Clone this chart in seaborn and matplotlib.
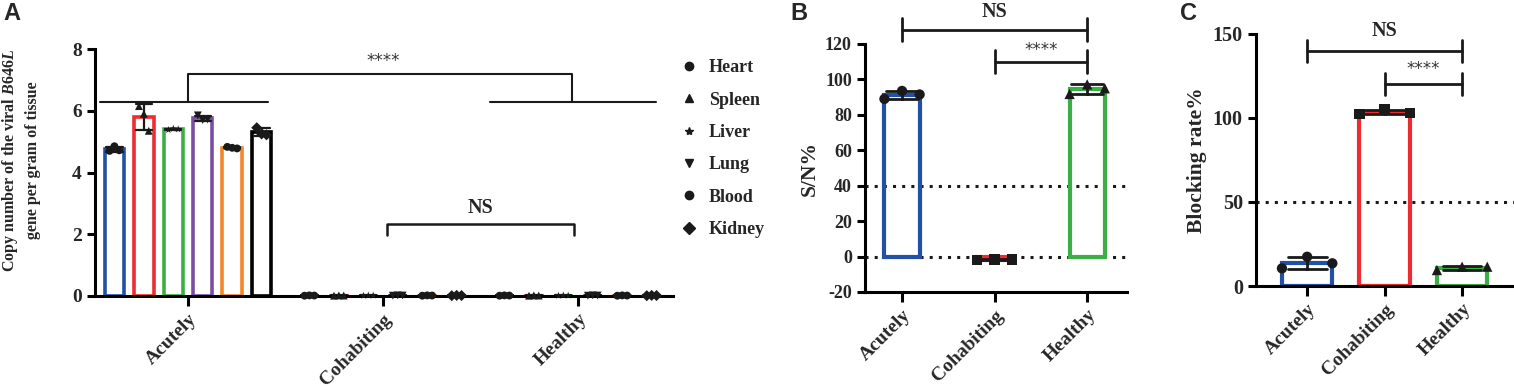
import numpy as np
import pandas as pd
import seaborn as sns
import matplotlib.pyplot as plt
from matplotlib.lines import Line2D

sns.set_theme(style="ticks")
plt.rcParams['font.family'] = ['Liberation Serif', 'DejaVu Serif']
plt.rcParams['font.weight'] = 'bold'
plt.rcParams['axes.labelweight'] = 'bold'
plt.rcParams['axes.unicode_minus'] = False
plt.rcParams['mathtext.fontset'] = 'custom'
plt.rcParams['mathtext.rm'] = 'Liberation Serif:bold'
plt.rcParams['mathtext.it'] = 'Liberation Serif:italic:bold'

# ---- data ----
groups = ["Acutely", "Cohabiting", "Healthy"]
organs = ["Heart", "Spleen", "Liver", "Lung", "Blood", "Kidney"]
organ_colors = ["#2150A5", "#EE2B30", "#3BAF45", "#7A4DA3", "#F5862A", "#000000"]
organ_markers = ["o", "^", "*", "v", "o", "D"]

# copy number, three replicates per organ
acutely_copy = {
    "Heart":  [4.70, 4.85, 4.72],
    "Spleen": [6.15, 5.90, 5.35],
    "Liver":  [5.38, 5.42, 5.40],
    "Lung":   [5.85, 5.70, 5.72],
    "Blood":  [4.83, 4.80, 4.78],
    "Kidney": [5.45, 5.25, 5.22],
}
cohabiting_copy = [0.01, 0.02, 0.015]
healthy_copy = [0.01, 0.02, 0.015]

sn_acutely = [89.0, 93.5, 91.5]
sn_cohabiting = [-1.8, -1.6, -1.7]
sn_healthy = [91.8, 97.2, 95.0]

block_acutely = [10.5, 17.4, 13.5]
block_cohabiting = [102.5, 105.0, 103.0]
block_healthy = [9.5, 11.5, 11.5]

group_colors = ["#2150A5", "#EE2B30", "#3BAF45"]
group_markers = {"Acutely": "o", "Cohabiting": "s", "Healthy": "^"}

rows = []
for g in groups:
    for o in organs:
        if g == "Acutely":
            vals = acutely_copy[o]
        elif g == "Cohabiting":
            vals = cohabiting_copy
        else:
            vals = healthy_copy
        for r, v in enumerate(vals):
            rows.append((g, o, r, v))
dfA = pd.DataFrame(rows, columns=["group", "organ", "rep", "value"])

def long_df(a, c, h):
    out = []
    for g, vals in zip(groups, [a, c, h]):
        for r, v in enumerate(vals):
            out.append((g, r, v))
    return pd.DataFrame(out, columns=["group", "rep", "value"])

dfB = long_df(sn_acutely, sn_cohabiting, sn_healthy)
dfC = long_df(block_acutely, block_cohabiting, block_healthy)

W, H = 1514, 390
fig = plt.figure(figsize=(W / 100, H / 100), dpi=100)

def px_axes(x0, x1, ytop, ybot):
    return fig.add_axes([x0 / W, 1 - ybot / H, (x1 - x0) / W, (ybot - ytop) / H])

axA = px_axes(95, 673, 49, 296)
axB = px_axes(865, 1127, 44, 292)
axC = px_axes(1256, 1514, 34, 286)

SPINE = 2.2

def style_axis(ax, yfs=14, xfs=14):
    sns.despine(ax=ax)
    for s in ["left", "bottom"]:
        ax.spines[s].set_linewidth(SPINE)
        ax.spines[s].set_color("black")
    ax.tick_params(axis="both", width=SPINE, length=6, color="black", direction="out")
    ax.tick_params(axis="y", labelsize=yfs)
    ax.tick_params(axis="x", length=7, labelsize=xfs)
    for lab in ax.get_xticklabels():
        lab.set_rotation(45)
        lab.set_ha("right")
        lab.set_rotation_mode("anchor")
        lab.set_fontweight("bold")
    for lab in ax.get_yticklabels():
        lab.set_fontweight("bold")

def bracket(ax, x0, x1, y, tick, text, ty, fs, fam=None):
    ax.plot([x0, x1], [y, y], color="k", lw=2, clip_on=False)
    ax.plot([x0, x0], [y - tick, y + tick], color="k", lw=2, clip_on=False)
    ax.plot([x1, x1], [y - tick, y + tick], color="k", lw=2, clip_on=False)
    kw = dict(ha="center", va="center", fontsize=fs, clip_on=False)
    if fam:
        kw["family"] = fam
        kw["fontweight"] = "normal"
        kw["color"] = "#333333"
    ax.text((x0 + x1) / 2, ty, text, **kw)

# ---- panel A ----
step = 0.151
sns.barplot(data=dfA, x="group", y="value", hue="organ", order=groups, hue_order=organs,
            palette=organ_colors, fill=False, width=6 * step, gap=0.34, errorbar="sd",
            capsize=0.5, linewidth=2.6, err_kws={"color": "k", "linewidth": 1.6},
            legend=False, ax=axA)
dfA["x"] = dfA["group"].map(groups.index) + (dfA["organ"].map(organs.index) - 2.5) * step \
    + (dfA["rep"] - 1) * 0.025
sns.scatterplot(data=dfA, x="x", y="value", style="organ", style_order=organs,
                markers=dict(zip(organs, organ_markers)), color="k", s=32,
                edgecolor="k", linewidth=0, legend=False, ax=axA, clip_on=False, zorder=5)
axA.set_xlim(-0.477, 2.487)
axA.set_ylim(0, 8)
axA.set_yticks([0, 2, 4, 6, 8])
axA.set_xlabel("")
axA.set_ylabel("Copy number of the viral $\\mathit{B646L}$\ngene per gram of tissue",
               fontsize=11.5, linespacing=1.45)
axA.yaxis.set_label_coords(-0.093, 0.55)
style_axis(axA)

# brackets in A
axA.plot([-0.45, 0.41], [6.27, 6.27], color="k", lw=1.5)
axA.plot([1.55, 2.40], [6.27, 6.27], color="k", lw=1.5)
axA.plot([0, 0, 1.97, 1.97], [6.27, 7.2, 7.2, 6.27], color="k", lw=1.5)
axA.text(1.0, 7.6, "****", ha="center", va="center", fontsize=12,
         family="DejaVu Sans", fontweight="normal", color="#333333")
axA.plot([1.02, 1.02, 1.98, 1.98], [1.98, 2.33, 2.33, 1.98], color="k", lw=1.8)
axA.text(1.5, 2.85, "NS", ha="center", va="center", fontsize=14.5)

handles = [Line2D([], [], marker=m, color="k", linestyle="none", markersize=6)
           for m in organ_markers]
fig.legend(handles, organs, loc="upper left", bbox_to_anchor=(662 / W, 1 - 43 / H),
           frameon=False, prop={"family": "Liberation Serif", "weight": "bold", "size": 13},
           labelspacing=0.85, handletextpad=0.5, handlelength=1.2)

# ---- panels B and C ----
def simple_panel(ax, df, width, cap, ylim, yticks, ylabel, lines, yfs):
    sns.barplot(data=df, x="group", y="value", hue="group", order=groups, hue_order=groups,
                palette=group_colors, fill=False, width=width, errorbar="sd", capsize=cap,
                linewidth=3, err_kws={"color": "k", "linewidth": 2}, legend=False, ax=ax)
    df = df.copy()
    df["x"] = df["group"].map(groups.index) + (df["rep"] - 1) * width / 2
    sns.scatterplot(data=df, x="x", y="value", style="group", style_order=groups,
                    markers=group_markers, color="k", s=55, edgecolor="k", linewidth=0,
                    legend=False, ax=ax, zorder=5, clip_on=False)
    for yv in lines:
        ax.axhline(yv, color="k", lw=2.2, linestyle=(0, (1, 2)), zorder=0)
    ax.set_ylim(*ylim)
    ax.set_yticks(yticks)
    ax.set_xlabel("")
    ax.set_ylabel(ylabel, fontsize=15.5)
    style_axis(ax, yfs=yfs)

simple_panel(axB, dfB, 0.38, 0.35, (-20, 120), list(range(-20, 121, 20)), "S/N%", [40, 0], 13)
axB.set_xlim(-0.4, 2.43)
bracket(axB, 0, 2, 128, 6.5, "NS", 138, 14.5)
bracket(axB, 1, 2, 110, 6.5, "****", 116.5, 12, fam="DejaVu Sans")

simple_panel(axC, dfC, 0.65, 0.5, (0, 150), [0, 50, 100, 150], "Blocking rate%", [50], 14.5)
axC.set_xlim(-0.66, 2.67)
bracket(axC, 0, 2, 140, 6.5, "NS", 151.5, 14.5)
bracket(axC, 1, 2, 120, 6.5, "****", 129, 12, fam="DejaVu Sans")

# panel letters
for lab, xp in [("A", 3), ("B", 790), ("C", 1180)]:
    fig.text(xp / W, 1 - 2 / H, lab, ha="left", va="top", fontsize=17,
             family="Liberation Sans", fontweight="bold")

fig.savefig("out.png", dpi=100)
